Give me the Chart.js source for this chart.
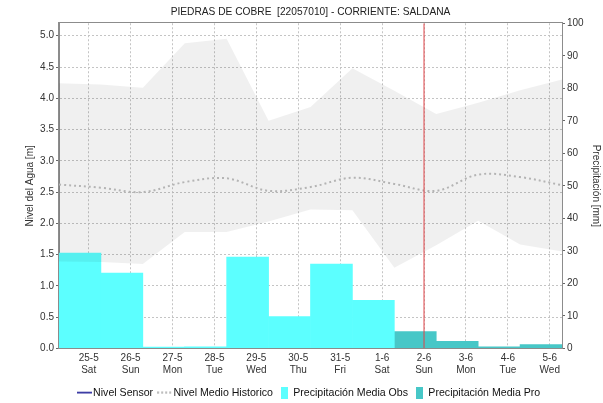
<!DOCTYPE html>
<html>
<head>
<meta charset="utf-8">
<script src="https://cdn.jsdelivr.net/npm/chart.js@4.4.0/dist/chart.umd.min.js"></script>
<style>
  html, body { margin: 0; padding: 0; background: #fff; }
  #wrap { width: 603px; height: 403px; }
</style>
</head>
<body>
<div id="wrap"><canvas id="nivelChart" width="603" height="403"></canvas></div>
<script>
// eje x en horas desde 25-5 00:00
const dayLabels = ['25-5', '26-5', '27-5', '28-5', '29-5', '30-5', '31-5', '1-6', '2-6', '3-6', '4-6', '5-6'];
const weekDays = ['Sat', 'Sun', 'Mon', 'Tue', 'Wed', 'Thu', 'Fri', 'Sat', 'Sun', 'Mon', 'Tue', 'Wed'];

// precipitacion diaria [mm], acumulada de 7:00 a 7:00
const precipObs = [29.3, 23.2, 0.4, 0.5, 28.1, 9.8, 25.9, 14.8];
const precipPro = [5.2, 2.2, 0.5, 1.2];

// niveles historicos [m] a las 7:00, de 24-5 a 5-6
const histMax = [4.24, 4.22, 4.17, 4.88, 4.95, 3.64, 3.86, 4.48, 4.12, 3.75, 3.93, 4.13, 4.30];
const histMin = [1.39, 1.38, 1.35, 1.86, 1.86, 2.03, 2.22, 2.21, 1.29, 1.65, 2.04, 1.66, 1.55];
const histMedio = [2.62, 2.57, 2.50, 2.66, 2.72, 2.52, 2.58, 2.73, 2.63, 2.52, 2.78, 2.74, 2.61];

// nivel del sensor: sin lecturas en el periodo
const nivelSensor = [];

const readHour = 7;
const todayIndex = 8;   // 2-6
const nivelMax = 5.2;
const precipMax = 100;

const histPoints = arr => arr.map((v, j) => ({ x: (j - 1) * 24 + readHour, y: v }));
// cada barra cubre las 24 h que terminan a las 7:00 del dia
const precipPoints = (arr, first) => arr.map((v, i) => ({ x: (first + i) * 24 + readHour - 12, y: v }));

function legendIcon(w, h, draw) {
    const c = document.createElement('canvas');
    c.width = w;
    c.height = h;
    draw(c.getContext('2d'));
    return c;
}

const lineIcon = (color, dash) => legendIcon(15, 3, g => {
    g.strokeStyle = color;
    g.lineWidth = dash ? 2 : 1.5;
    g.setLineDash(dash || []);
    g.beginPath();
    g.moveTo(0, 1.5);
    g.lineTo(15, 1.5);
    g.stroke();
});
const boxIcon = color => legendIcon(7, 12, g => {
    g.fillStyle = color;
    g.fillRect(0, 0, 7, 12);
});

const plotFrame = {
    id: 'plotFrame',
    afterDatasetsDraw(chart) {
        const { ctx, chartArea: a } = chart;
        ctx.save();
        ctx.strokeStyle = '#8c8c8c';
        ctx.lineWidth = 1;
        ctx.strokeRect(Math.round(a.left) - 0.5, Math.round(a.top) - 0.5, Math.round(a.width) + 1, Math.round(a.height) + 1);
        ctx.restore();
    }
};

Chart.defaults.font.family = '"Liberation Sans", Arial, sans-serif';
Chart.defaults.color = '#333';

const ctx = document.getElementById('nivelChart').getContext('2d');
new Chart(ctx, {
    type: 'bar',
    data: {
        datasets: [
            {
                type: 'line', label: 'Nivel Sensor', data: nivelSensor, yAxisID: 'y',
                borderColor: '#101090', borderWidth: 1.5, pointRadius: 0, order: 0,
                legendIcon: lineIcon('#101090')
            },
            {
                type: 'line', label: 'Nivel Medio Historico', data: histPoints(histMedio), yAxisID: 'y',
                borderColor: '#b4b4b4', borderWidth: 2, borderDash: [2, 3], tension: 0.35,
                pointRadius: 0, fill: false, order: 1,
                legendIcon: lineIcon('#b4b4b4', [2, 2])
            },
            {
                type: 'line', label: 'Historico min', data: histPoints(histMin), yAxisID: 'y',
                borderWidth: 0, pointRadius: 0, fill: false, order: 2
            },
            {
                type: 'line', label: 'Historico max', data: histPoints(histMax), yAxisID: 'y',
                borderWidth: 0, pointRadius: 0, fill: '-1', backgroundColor: 'rgba(0,0,0,0.06)', order: 2
            },
            {
                type: 'line', label: 'Hoy', yAxisID: 'y',
                data: [{ x: todayIndex * 24, y: 0 }, { x: todayIndex * 24, y: nivelMax }],
                borderColor: '#e04448', borderWidth: 1, pointRadius: 0, order: 0
            },
            {
                label: 'Precipitación Media Obs', data: precipPoints(precipObs, 0), yAxisID: 'y1',
                backgroundColor: '#5cffff', grouped: false, barPercentage: 1, categoryPercentage: 1, order: 3,
                legendIcon: boxIcon('#5cffff')
            },
            {
                label: 'Precipitación Media Pro', data: precipPoints(precipPro, precipObs.length), yAxisID: 'y1',
                backgroundColor: '#47c7c7', grouped: false, barPercentage: 1, categoryPercentage: 1, order: 3,
                legendIcon: boxIcon('#47c7c7')
            }
        ]
    },
    options: {
        responsive: false,
        animation: false,
        layout: { padding: { top: 0, left: 0, right: 0, bottom: -5 } },
        plugins: {
            title: {
                display: true,
                text: 'PIEDRAS DE COBRE  [22057010] - CORRIENTE: SALDANA',
                color: '#222',
                font: { size: 10.2, weight: 'normal' },
                padding: { top: 6, bottom: 5 },
                fullSize: false
            },
            legend: {
                position: 'bottom',
                fullSize: false,
                labels: {
                    usePointStyle: true,
                    boxWidth: 7,
                    boxHeight: 11,
                    padding: 8,
                    color: '#111',
                    font: { size: 10.6 },
                    generateLabels(chart) {
                        const items = Chart.defaults.plugins.legend.labels.generateLabels(chart);
                        return items.filter(it => chart.data.datasets[it.datasetIndex].legendIcon).map(it => {
                            it.pointStyle = chart.data.datasets[it.datasetIndex].legendIcon;
                            return it;
                        });
                    }
                }
            },
            tooltip: { enabled: false }
        },
        scales: {
            x: {
                type: 'linear',
                offset: false,
                min: -24 + readHour,
                max: (dayLabels.length - 1) * 24 + readHour,
                afterBuildTicks: s => { s.ticks = dayLabels.map((_, i) => ({ value: i * 24 })); },
                afterFit: s => { s.height = 31; },
                ticks: {
                    autoSkip: false,
                    maxRotation: 0,
                    padding: 4,
                    font: { size: 10 },
                    callback: (v, i) => [dayLabels[i], weekDays[i]]
                },
                grid: { color: '#c4c4c4', drawTicks: false, offset: false },
                border: { color: '#8c8c8c', dash: [2, 2] }
            },
            y: {
                position: 'left',
                min: 0,
                max: nivelMax,
                afterFit: s => { s.width = 59; },
                ticks: { stepSize: 0.5, includeBounds: false, padding: 2, font: { size: 10 }, callback: v => v.toFixed(1) },
                grid: { color: '#c4c4c4', tickColor: '#666', tickLength: 3 },
                border: { color: '#8c8c8c', dash: [2, 2] },
                title: { display: true, text: 'Nivel del Agua [m]', font: { size: 10 }, padding: { top: 24, bottom: 0 } }
            },
            y1: {
                position: 'right',
                min: 0,
                max: precipMax,
                afterFit: s => { s.width = 41; },
                ticks: { stepSize: 10, includeBounds: false, padding: 2, font: { size: 10 } },
                grid: { drawOnChartArea: false, color: '#666', tickLength: 3 },
                border: { color: '#8c8c8c' },
                title: { display: true, text: 'Precipitación [mm]', font: { size: 10 }, padding: { top: 1, bottom: 0 } }
            }
        }
    },
    plugins: [plotFrame]
});
</script>
</body>
</html>
